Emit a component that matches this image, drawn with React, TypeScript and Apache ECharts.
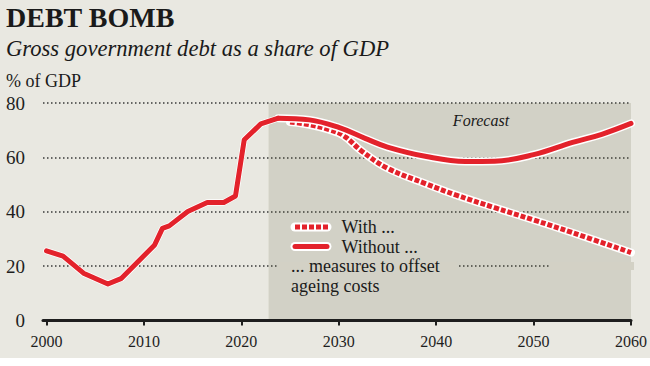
import React, { useEffect, useRef } from "react";
import * as echarts from "echarts";

// ---- data ----
const HIST_YEARS = [2000, 2001.7, 2003.8, 2006.3, 2007.7, 2011.1, 2011.9, 2012.6, 2014.5, 2016.5, 2018.2, 2019.4, 2020.3, 2022, 2023.8];
const HIST_VALUES = [25.6, 23.7, 17.4, 13.4, 15.5, 27.8, 33.9, 34.8, 40.1, 43.4, 43.4, 45.8, 66.5, 72.3, 74.4];

const WITHOUT_YEARS = [2023.8, 2027, 2030, 2032.7, 2035, 2039, 2043, 2046, 2050, 2054, 2057, 2060];
const WITHOUT_VALUES = [74.4, 73.8, 71, 67, 63.8, 60.3, 58.5, 58.6, 61, 65.5, 68.5, 72.5];

const WITH_YEARS = [2025, 2027, 2029, 2030.5, 2032.4, 2035, 2039, 2042, 2046, 2050, 2054, 2060];
const WITH_VALUES = [73, 72, 70.2, 68, 62.2, 56, 50.2, 46.2, 41.5, 37, 32.3, 25];

const X_TICKS = [2000, 2010, 2020, 2030, 2040, 2050, 2060];
const FORECAST_START = 2022.8;
const FORECAST_END = 2060;

const TITLE = "DEBT BOMB";
const SUBTITLE = "Gross government debt as a share of GDP";
const UNIT = "% of GDP";
const FORECAST_LABEL = "Forecast";
const LEGEND_WITH = "With ...";
const LEGEND_WITHOUT = "Without ...";
const NOTE_1 = "... measures to offset";
const NOTE_2 = "ageing costs";

const BG = "#e9e8e1";
const SHADE = "#d3d1c5";
const SHADE_TINT = "rgba(100,95,60,0.165)";
const RED = "#e3222b";
const INK = "#1e1e1e";
const SERIF = "'Liberation Serif', serif";

const pairs = (xs: number[], ys: number[]) => xs.map((x, i) => [x, ys[i]]);

export default function App() {
  const ref = useRef<HTMLDivElement>(null);

  useEffect(() => {
    if (!ref.current) return;
    const chart = echarts.init(ref.current, null, { renderer: "svg" });

    const hist = pairs(HIST_YEARS, HIST_VALUES);
    const without = pairs(WITHOUT_YEARS, WITHOUT_VALUES);
    const withM = pairs(WITH_YEARS, WITH_VALUES);

    const option: any = {
      animation: false,
      backgroundColor: "transparent",
      grid: { left: 43, right: 16, top: 103, bottom: 45.5, containLabel: false },
      xAxis: {
        type: "value",
        min: 1999.64,
        max: 2060,
        z: 8,
        axisLine: { show: true, lineStyle: { color: INK, width: 3 } },
        axisTick: {
          show: true,
          customValues: X_TICKS,
          length: 5,
          lineStyle: { color: INK, width: 2 },
        },
        axisLabel: {
          customValues: X_TICKS,
          color: INK,
          fontFamily: SERIF,
          fontSize: 16,
          margin: 13,
          formatter: (v: number) => String(Math.round(v)),
        },
        splitLine: { show: false },
      },
      yAxis: {
        type: "value",
        min: 0,
        max: 80,
        interval: 20,
        axisLine: { show: false },
        axisTick: { show: false },
        axisLabel: { color: INK, fontFamily: SERIF, fontSize: 19, margin: 18 },
        splitLine: {
          show: true,
          lineStyle: { color: "#3a3a3a", width: 1.5, type: [1.5, 2.5] },
        },
      },
      series: [
        {
          type: "line",
          z: 1,
          data: [[FORECAST_END, 0]],
          showSymbol: false,
          symbol: "none",
          lineStyle: { width: 0 },
          silent: true,
          markArea: {
            silent: true,
            itemStyle: { color: SHADE_TINT },
            data: [[{ xAxis: FORECAST_START, yAxis: 0 }, { xAxis: FORECAST_END, yAxis: 80 }]],
          },
        },
        {
          type: "line",
          z: 4,
          data: withM,
          smooth: 0.4,
          symbol: "none",
          lineStyle: { color: "#ffffff", width: 8, cap: "round" },
        },
        {
          type: "line",
          z: 4,
          data: withM,
          smooth: 0.4,
          symbol: "none",
          lineStyle: { color: RED, width: 5, type: [5, 2], cap: "butt" },
        },
        {
          type: "line",
          z: 5,
          data: without,
          smooth: 0.4,
          symbol: "none",
          lineStyle: { color: "#ffffff", width: 8, cap: "round" },
        },
        {
          type: "line",
          z: 5,
          data: hist,
          symbol: "none",
          lineStyle: { color: "#ffffff", width: 6.5, cap: "round", join: "round" },
        },
        {
          type: "line",
          z: 6,
          data: without,
          smooth: 0.4,
          symbol: "none",
          lineStyle: { color: RED, width: 5, cap: "round" },
        },
        {
          type: "line",
          z: 6,
          data: hist,
          symbol: "none",
          lineStyle: { color: RED, width: 5, cap: "round", join: "round" },
        },
      ],
      graphic: [
        {
          type: "text",
          x: 6,
          y: 17,
          z: 10,
          style: { text: TITLE, font: `bold 28px ${SERIF}`, fill: "#1a1a1a", textAlign: "left", textVerticalAlign: "middle" },
        },
        {
          type: "text",
          x: 6,
          y: 48.5,
          z: 10,
          style: { text: SUBTITLE, font: `italic 22.6px ${SERIF}`, fill: "#1a1a1a", textAlign: "left", textVerticalAlign: "middle" },
        },
        {
          type: "text",
          x: 6,
          y: 80.5,
          z: 10,
          style: { text: UNIT, font: `18px ${SERIF}`, fill: "#1a1a1a", textAlign: "left", textVerticalAlign: "middle" },
        },
        // cover for the 20 gridline behind the note box
        { type: "rect", z: 3, shape: { x: 278, y: 262, width: 179, height: 8 }, style: { fill: SHADE } },
        { type: "rect", z: 3, shape: { x: 550, y: 262, width: 84, height: 8 }, style: { fill: SHADE } },
        {
          type: "text",
          x: 481,
          y: 120,
          z: 10,
          style: { text: FORECAST_LABEL, font: `italic 16px ${SERIF}`, fill: "#1a1a1a", textAlign: "center", textVerticalAlign: "middle" },
        },
        // legend swatches
        { type: "line", z: 10, shape: { x1: 295, y1: 227, x2: 327, y2: 227 }, style: { stroke: "#ffffff", lineWidth: 9, lineCap: "round" } },
        { type: "line", z: 11, shape: { x1: 295, y1: 227, x2: 328, y2: 227 }, style: { stroke: RED, lineWidth: 5, lineDash: [5, 2] } },
        { type: "line", z: 10, shape: { x1: 295, y1: 246.5, x2: 327, y2: 246.5 }, style: { stroke: "#ffffff", lineWidth: 9, lineCap: "round" } },
        { type: "line", z: 11, shape: { x1: 295, y1: 246.5, x2: 327, y2: 246.5 }, style: { stroke: RED, lineWidth: 5, lineCap: "round" } },
        {
          type: "text",
          x: 341.5,
          y: 227,
          z: 10,
          style: { text: LEGEND_WITH, font: `18px ${SERIF}`, fill: "#1a1a1a", textAlign: "left", textVerticalAlign: "middle" },
        },
        {
          type: "text",
          x: 341.5,
          y: 247,
          z: 10,
          style: { text: LEGEND_WITHOUT, font: `18px ${SERIF}`, fill: "#1a1a1a", textAlign: "left", textVerticalAlign: "middle" },
        },
        {
          type: "text",
          x: 291,
          y: 266,
          z: 10,
          style: { text: NOTE_1, font: `18px ${SERIF}`, fill: "#1a1a1a", textAlign: "left", textVerticalAlign: "middle" },
        },
        {
          type: "text",
          x: 291,
          y: 286,
          z: 10,
          style: { text: NOTE_2, font: `18px ${SERIF}`, fill: "#1a1a1a", textAlign: "left", textVerticalAlign: "middle" },
        },
      ],
    };

    chart.setOption(option);
    return () => chart.dispose();
  }, []);

  return (
    <div
      style={{
        position: "fixed",
        left: 0,
        top: 0,
        width: 650,
        height: 366,
        background: `linear-gradient(to bottom, ${BG} 0px, ${BG} 358px, #ffffff 358px)`,
      }}
    >
      <div ref={ref} style={{ width: 650, height: 366 }} />
    </div>
  );
}
